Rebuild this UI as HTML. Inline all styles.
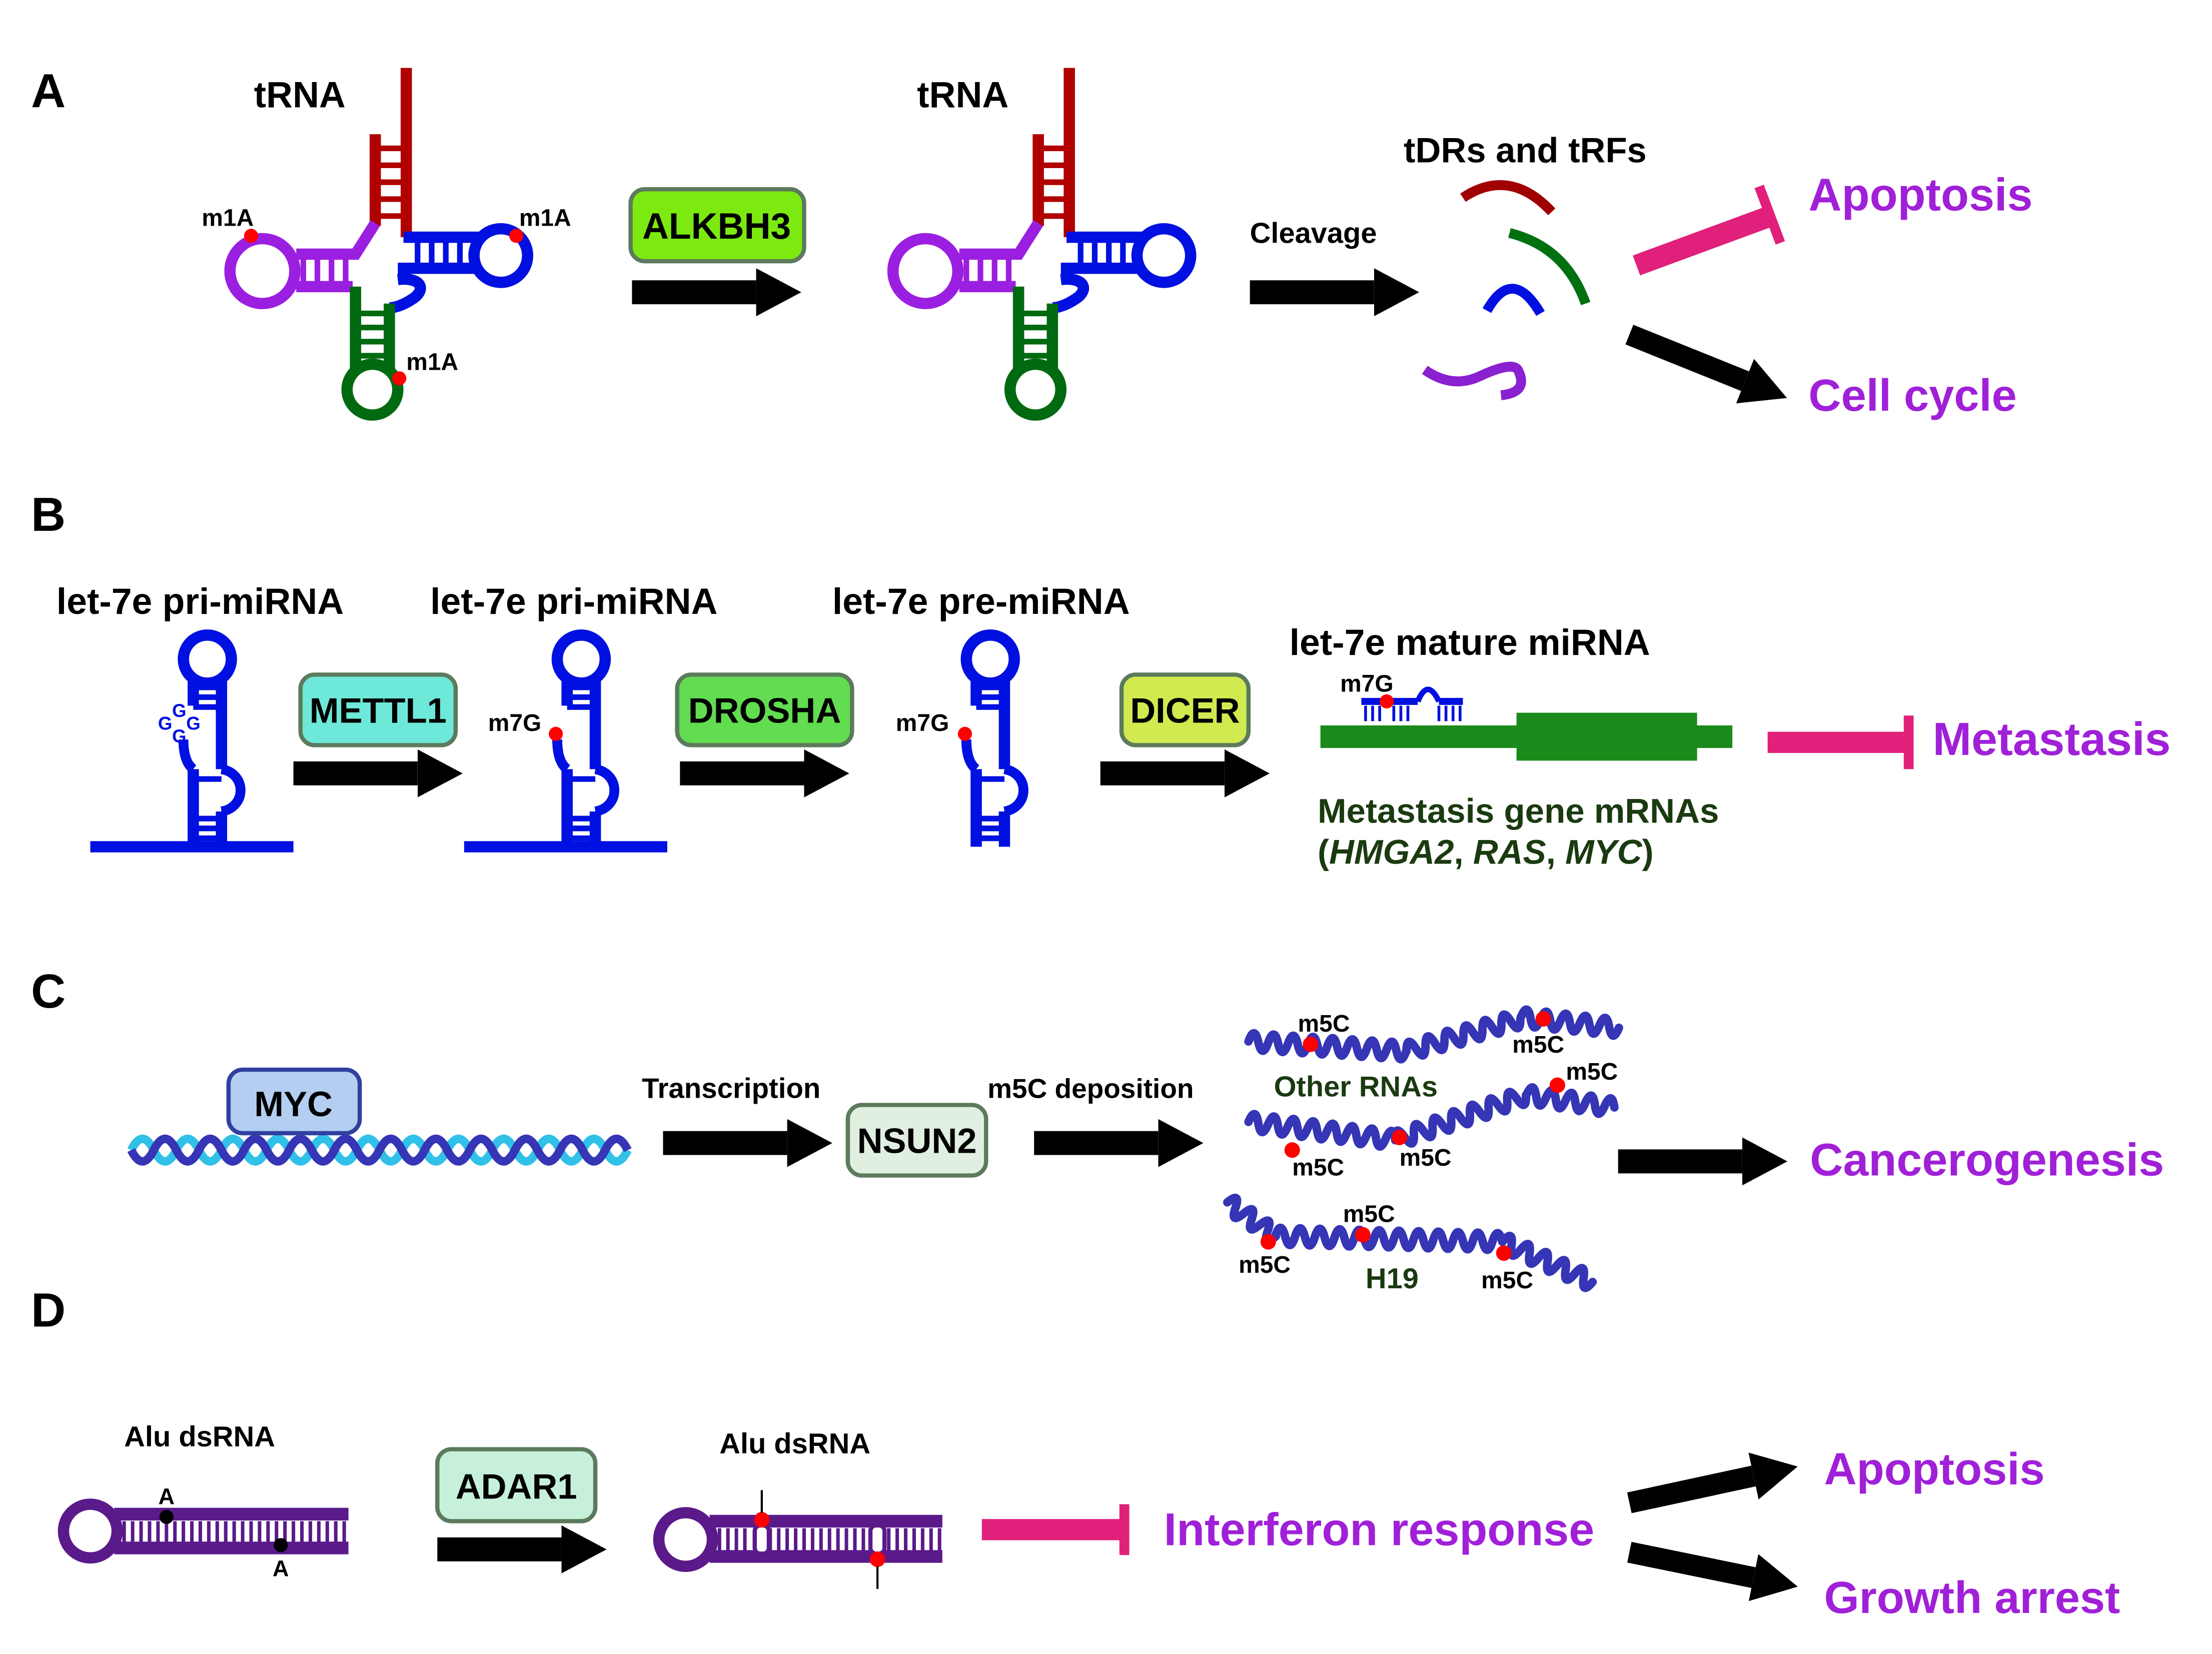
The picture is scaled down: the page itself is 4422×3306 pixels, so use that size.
<!DOCTYPE html>
<html><head><meta charset="utf-8"><style>
html,body{margin:0;padding:0;background:#fff}
svg{display:block}
text{font-family:"Liberation Sans",Arial,sans-serif;font-weight:bold}
</style></head><body>
<svg width="4422" height="3306" viewBox="0 0 1568 1172" xmlns="http://www.w3.org/2000/svg">
<defs>
<marker id="ah" markerUnits="userSpaceOnUse" markerWidth="40" markerHeight="40" refX="0" refY="17" orient="auto">
<path d="M0,0 L32,17 L0,34 Z" fill="#000"/></marker>
<g id="trna" fill="none" stroke-width="8">
  <line x1="266" y1="95" x2="266" y2="160" stroke="#b00000"/>
  <line x1="288" y1="48" x2="288" y2="168" stroke="#b00000"/>
  <path d="M266,105H288M266,117H288M266,129H288M266,141H288M266,153H288" stroke="#b00000" stroke-width="4"/>
  <path d="M266,158 L252,180 H210" stroke="#9b1fe0"/>
  <path d="M250,203 H210" stroke="#9b1fe0"/>
  <path d="M215,180V203M225,180V203M235,180V203M245,180V203" stroke="#9b1fe0" stroke-width="4"/>
  <circle cx="186" cy="192" r="23" stroke="#9b1fe0"/>
  <path d="M286,168 H340" stroke="#0010e0"/>
  <path d="M282,190 H340" stroke="#0010e0"/>
  <path d="M296,168V190M306,168V190M316,168V190M326,168V190M336,168V190" stroke="#0010e0" stroke-width="4"/>
  <circle cx="355" cy="181" r="19" stroke="#0010e0"/>
  <path d="M282,198 C300,196 302,206 292,212 C286,216 280,218 276,218" stroke="#0010e0"/>
  <line x1="252" y1="203" x2="252" y2="262" stroke="#006a10"/>
  <line x1="276" y1="215" x2="276" y2="262" stroke="#006a10"/>
  <path d="M252,222H276M252,232H276M252,242H276M252,252H276" stroke="#006a10" stroke-width="4"/>
  <circle cx="264" cy="276" r="18" stroke="#006a10"/>
</g>
<g id="hp" fill="none" stroke="#0010e0" stroke-width="8">
  <path d="M137,600 V545 M137,500 V482"/>
  <path d="M157,600 V575 M157,545 V482"/>
  <circle cx="147" cy="467" r="17"/>
  <path d="M130,524 C130,536 133,542 137,545" stroke-width="7"/>
  <path d="M157,545 C175,548 175,572 157,575" stroke-width="7"/>
  <path d="M137,487H157M137,494H157M137,501H157M137,552H157M137,580H157M137,587H157M137,594H157" stroke-width="4"/>
</g>
</defs>

<text x="22" y="76" font-size="34">A</text>
<text x="22" y="376" font-size="34">B</text>
<text x="22" y="714" font-size="34">C</text>
<text x="22" y="940" font-size="34">D</text>

<!-- ===== A ===== -->
<text x="180" y="76" font-size="26">tRNA</text>
<use href="#trna"/>
<circle cx="178" cy="167" r="5" fill="#f00"/>
<circle cx="366" cy="167" r="5" fill="#f00"/>
<circle cx="283" cy="268" r="5" fill="#f00"/>
<text x="143" y="160" font-size="17">m1A</text>
<text x="368" y="160" font-size="17">m1A</text>
<text x="288" y="262" font-size="17">m1A</text>

<rect x="447" y="134" width="123" height="51" rx="10" fill="#7cea10" stroke="#5c7a5c" stroke-width="3"/>
<text x="508" y="169" font-size="26" text-anchor="middle">ALKBH3</text>
<line x1="448" y1="207" x2="536" y2="207" stroke="#000" stroke-width="17" marker-end="url(#ah)"/>

<text x="650" y="76" font-size="26">tRNA</text>
<use href="#trna" transform="translate(470,0)"/>

<text x="886" y="172" font-size="20.5">Cleavage</text>
<line x1="886" y1="207" x2="974" y2="207" stroke="#000" stroke-width="17" marker-end="url(#ah)"/>
<text x="995" y="115" font-size="25">tDRs and tRFs</text>
<path d="M1037,140 Q1070,118 1100,150" fill="none" stroke="#a00000" stroke-width="7"/>
<path d="M1070,165 Q1110,175 1124,215" fill="none" stroke="#007010" stroke-width="7"/>
<path d="M1054,220 Q1072,188 1092,222" fill="none" stroke="#0010e0" stroke-width="7"/>
<path d="M1010,262 Q1030,276 1050,266 Q1072,256 1076,262 Q1084,278 1064,280" fill="none" stroke="#8a20d0" stroke-width="7"/>
<line x1="1160" y1="188" x2="1255" y2="153" stroke="#e0207a" stroke-width="15"/>
<line x1="1247" y1="132" x2="1262" y2="172" stroke="#e0207a" stroke-width="7"/>
<text x="1282" y="149" font-size="32.5" fill="#a020d8">Apoptosis</text>
<line x1="1155" y1="237" x2="1237" y2="270" stroke="#000" stroke-width="15" marker-end="url(#ah)"/>
<text x="1282" y="291" font-size="32" fill="#a020d8">Cell cycle</text>

<!-- ===== B ===== -->
<text x="40" y="435" font-size="26">let-7e pri-miRNA</text>
<text x="305" y="435" font-size="26">let-7e pri-miRNA</text>
<text x="590" y="435" font-size="26">let-7e pre-miRNA</text>
<text x="914" y="464" font-size="26">let-7e mature miRNA</text>

<line x1="64" y1="600" x2="208" y2="600" stroke="#0010e0" stroke-width="8"/>
<use href="#hp"/>
<g fill="#0010e0" font-size="13" font-weight="normal">
<text x="122" y="508">G</text><text x="112" y="517">G</text><text x="132" y="517">G</text><text x="122" y="526">G</text>
</g>
<rect x="213" y="478" width="110" height="50" rx="10" fill="#6ee8d8" stroke="#5c7a5c" stroke-width="3"/>
<text x="268" y="512" font-size="25" text-anchor="middle">METTL1</text>
<line x1="208" y1="548" x2="296" y2="548" stroke="#000" stroke-width="17" marker-end="url(#ah)"/>

<line x1="329" y1="600" x2="473" y2="600" stroke="#0010e0" stroke-width="8"/>
<use href="#hp" transform="translate(265,0)"/>
<path d="M395,524 C395,536 398,542 402,545" fill="none" stroke="#0010e0" stroke-width="7"/>
<circle cx="394" cy="520" r="5" fill="#f00"/>
<text x="346" y="518" font-size="17">m7G</text>
<rect x="480" y="478" width="124" height="50" rx="10" fill="#62dc50" stroke="#5c7a5c" stroke-width="3"/>
<text x="542" y="512" font-size="25" text-anchor="middle">DROSHA</text>
<line x1="482" y1="548" x2="570" y2="548" stroke="#000" stroke-width="17" marker-end="url(#ah)"/>

<use href="#hp" transform="translate(555,0)"/>
<path d="M685,524 C685,536 688,542 692,545" fill="none" stroke="#0010e0" stroke-width="7"/>
<circle cx="684" cy="520" r="5" fill="#f00"/>
<text x="635" y="518" font-size="17">m7G</text>
<rect x="795" y="478" width="90" height="50" rx="10" fill="#d0ea50" stroke="#5c7a5c" stroke-width="3"/>
<text x="840" y="512" font-size="25" text-anchor="middle">DICER</text>
<line x1="780" y1="548" x2="868" y2="548" stroke="#000" stroke-width="17" marker-end="url(#ah)"/>

<rect x="936" y="514" width="292" height="16" fill="#1a8a1a"/>
<rect x="1075" y="505" width="128" height="34" fill="#1a8a1a"/>
<path d="M965,497 H1005 M1020,497 H1037" stroke="#0010e0" stroke-width="5"/>
<path d="M1005,497 Q1012,480 1020,497" fill="none" stroke="#0010e0" stroke-width="4"/>
<path d="M968,500V511M973,500V511M978,500V511M988,500V511M993,500V511M998,500V511M1020,500V511M1025,500V511M1030,500V511M1035,500V511" stroke="#0010e0" stroke-width="2"/>
<circle cx="983" cy="497" r="5" fill="#f00"/>
<text x="950" y="490" font-size="17">m7G</text>
<line x1="1253" y1="526" x2="1352" y2="526" stroke="#e0207a" stroke-width="15"/>
<line x1="1353" y1="507" x2="1353" y2="545" stroke="#e0207a" stroke-width="7"/>
<text x="1370" y="535" font-size="33" fill="#a020d8">Metastasis</text>
<text x="934" y="583" font-size="24.5" fill="#1a3a10">Metastasis gene mRNAs</text>
<text x="934" y="612" font-size="24.5" fill="#1a3a10">(<tspan font-style="italic">HMGA2</tspan>, <tspan font-style="italic">RAS</tspan>, <tspan font-style="italic">MYC</tspan>)</text>

<!-- ===== C ===== -->
<path d="M93,815 q8,-16 16,0 t16,0 t16,0 t16,0 t16,0 t16,0 t16,0 t16,0 t16,0 t16,0 t16,0 t16,0 t16,0 t16,0 t16,0 t16,0 t16,0 t16,0 t16,0 t16,0 t16,0 t16,0" fill="none" stroke="#30c0e8" stroke-width="6"/>
<path d="M93,815 q8,16 16,0 t16,0 t16,0 t16,0 t16,0 t16,0 t16,0 t16,0 t16,0 t16,0 t16,0 t16,0 t16,0 t16,0 t16,0 t16,0 t16,0 t16,0 t16,0 t16,0 t16,0 t16,0" fill="none" stroke="#3535b5" stroke-width="6"/>
<rect x="162" y="758" width="93" height="45" rx="10" fill="#b4cef2" stroke="#3040a0" stroke-width="3"/>
<text x="208" y="791" font-size="25" text-anchor="middle">MYC</text>
<text x="455" y="778" font-size="20">Transcription</text>
<line x1="470" y1="810" x2="558" y2="810" stroke="#000" stroke-width="17" marker-end="url(#ah)"/>
<rect x="601" y="783" width="98" height="50" rx="10" fill="#e0efe0" stroke="#5c7a5c" stroke-width="3"/>
<text x="650" y="817" font-size="25" text-anchor="middle">NSUN2</text>
<text x="700" y="778" font-size="19.5">m5C deposition</text>
<line x1="733" y1="810" x2="821" y2="810" stroke="#000" stroke-width="17" marker-end="url(#ah)"/>

<g fill="none" stroke="#3535b5" stroke-width="6" stroke-linecap="round">
<path transform="translate(885,738) rotate(3.5)" d="M0,0 q3.5,-12 7,0 t7,0 t7,0 t7,0 t7,0 t7,0 t7,0 t7,0 t7,0 t7,0 t7,0 t7,0 t7,0 t7,0 t7,0 t7,0"/>
<path transform="translate(997,745) rotate(-16)" d="M0,0 q3.5,-12 7,0 t7,0 t7,0 t7,0 t7,0 t7,0 t7,0 t7,0 t7,0 t7,0 t7,0 t7,0"/>
<path transform="translate(1078,721) rotate(6)" d="M0,0 q3.5,-12 7,0 t7,0 t7,0 t7,0 t7,0 t7,0 t7,0 t7,0 t7,0 t7,0"/>
<path transform="translate(885,795) rotate(7)" d="M0,0 q3.5,-12 7,0 t7,0 t7,0 t7,0 t7,0 t7,0 t7,0 t7,0 t7,0 t7,0 t7,0 t7,0 t7,0 t7,0 t7,0"/>
<path transform="translate(989,808) rotate(-19)" d="M0,0 q3.5,-12 7,0 t7,0 t7,0 t7,0 t7,0 t7,0 t7,0 t7,0 t7,0 t7,0 t7,0 t7,0 t7,0 t7,0"/>
<path transform="translate(1082,776) rotate(8)" d="M0,0 q3.5,-12 7,0 t7,0 t7,0 t7,0 t7,0 t7,0 t7,0 t7,0 t7,0"/>
<path transform="translate(870,852) rotate(35)" d="M0,0 q3.5,-12 7,0 t7,0 t7,0 t7,0 t7,0 t7,0"/>
<path transform="translate(904,876) rotate(1.4)" d="M0,0 q3.5,-12 7,0 t7,0 t7,0 t7,0 t7,0 t7,0 t7,0 t7,0 t7,0 t7,0 t7,0 t7,0 t7,0 t7,0 t7,0 t7,0 t7,0 t7,0 t7,0 t7,0 t7,0 t7,0 t7,0"/>
<path transform="translate(1065,880) rotate(24)" d="M0,0 q3.5,-12 7,0 t7,0 t7,0 t7,0 t7,0 t7,0 t7,0 t7,0 t7,0 t7,0"/>
</g>
<g fill="#f00">
<circle cx="929" cy="740" r="5.5"/><circle cx="1094" cy="722" r="5.5"/>
<circle cx="916" cy="815" r="5.5"/><circle cx="992" cy="806" r="5.5"/><circle cx="1104" cy="769" r="5.5"/>
<circle cx="899" cy="880" r="5.5"/><circle cx="966" cy="875" r="5.5"/><circle cx="1066" cy="888" r="5.5"/>
</g>
<g font-size="17">
<text x="920" y="731">m5C</text><text x="1072" y="746">m5C</text>
<text x="1110" y="765">m5C</text><text x="916" y="833">m5C</text><text x="992" y="826">m5C</text>
<text x="952" y="866">m5C</text><text x="878" y="902">m5C</text><text x="1050" y="913">m5C</text>
</g>
<text x="903" y="777" font-size="20.5" fill="#1a3a10">Other RNAs</text>
<text x="968" y="913" font-size="20.5" fill="#1a3a10">H19</text>
<line x1="1147" y1="823" x2="1235" y2="823" stroke="#000" stroke-width="17" marker-end="url(#ah)"/>
<text x="1283" y="833" font-size="32.5" fill="#a020d8">Cancerogenesis</text>

<!-- ===== D ===== -->
<text x="88" y="1025" font-size="20.5">Alu dsRNA</text>
<circle cx="64" cy="1085" r="19" fill="none" stroke="#5a1a8a" stroke-width="8"/>
<path d="M81,1073 H247 M81,1097 H247" stroke="#5a1a8a" stroke-width="9"/>
<path d="M88,1078V1093M94,1078V1093M100,1078V1093M106,1078V1093M112,1078V1093M118,1078V1093M124,1078V1093M130,1078V1093M136,1078V1093M142,1078V1093M148,1078V1093M154,1078V1093M160,1078V1093M166,1078V1093M172,1078V1093M178,1078V1093M184,1078V1093M190,1078V1093M196,1078V1093M202,1078V1093M208,1078V1093M214,1078V1093M220,1078V1093M226,1078V1093M232,1078V1093M238,1078V1093M244,1078V1093" stroke="#5a1a8a" stroke-width="2.5"/>
<circle cx="118" cy="1075" r="5" fill="#000"/><circle cx="199" cy="1095" r="5" fill="#000"/>
<text x="118" y="1066" font-size="16" text-anchor="middle">A</text>
<text x="199" y="1117" font-size="16" text-anchor="middle">A</text>
<rect x="310" y="1027" width="112" height="51" rx="10" fill="#c6f0da" stroke="#5c7a5c" stroke-width="3"/>
<text x="366" y="1062" font-size="25" text-anchor="middle">ADAR1</text>
<line x1="310" y1="1098" x2="398" y2="1098" stroke="#000" stroke-width="17" marker-end="url(#ah)"/>

<text x="510" y="1030" font-size="20.5">Alu dsRNA</text>
<circle cx="486" cy="1091" r="19" fill="none" stroke="#5a1a8a" stroke-width="8"/>
<path d="M503,1078 H668 M503,1103 H668" stroke="#5a1a8a" stroke-width="9"/>
<path d="M510,1083V1099M516,1083V1099M522,1083V1099M528,1083V1099M546,1083V1099M552,1083V1099M558,1083V1099M564,1083V1099M570,1083V1099M576,1083V1099M582,1083V1099M588,1083V1099M594,1083V1099M600,1083V1099M606,1083V1099M612,1083V1099M630,1083V1099M636,1083V1099M642,1083V1099M648,1083V1099M654,1083V1099M660,1083V1099M666,1083V1099" stroke="#5a1a8a" stroke-width="2.5"/>
<rect x="535" y="1081" width="10" height="20" rx="4" fill="#fff" stroke="#5a1a8a" stroke-width="3"/>
<rect x="617" y="1081" width="10" height="20" rx="4" fill="#fff" stroke="#5a1a8a" stroke-width="3"/>
<circle cx="540" cy="1077" r="5.5" fill="#f00"/><circle cx="622" cy="1105" r="5.5" fill="#f00"/>
<line x1="540" y1="1056" x2="540" y2="1072" stroke="#000" stroke-width="1.5"/>
<line x1="622" y1="1110" x2="622" y2="1126" stroke="#000" stroke-width="1.5"/>
<line x1="696" y1="1084" x2="796" y2="1084" stroke="#e0207a" stroke-width="15"/>
<line x1="797" y1="1066" x2="797" y2="1102" stroke="#e0207a" stroke-width="7"/>
<text x="825" y="1095" font-size="32.5" fill="#a020d8">Interferon response</text>
<line x1="1155" y1="1065" x2="1243" y2="1046" stroke="#000" stroke-width="15" marker-end="url(#ah)"/>
<line x1="1155" y1="1100" x2="1243" y2="1118" stroke="#000" stroke-width="15" marker-end="url(#ah)"/>
<text x="1293" y="1052" font-size="32" fill="#a020d8">Apoptosis</text>
<text x="1293" y="1143" font-size="32" fill="#a020d8">Growth arrest</text>
</svg>
</body></html>
